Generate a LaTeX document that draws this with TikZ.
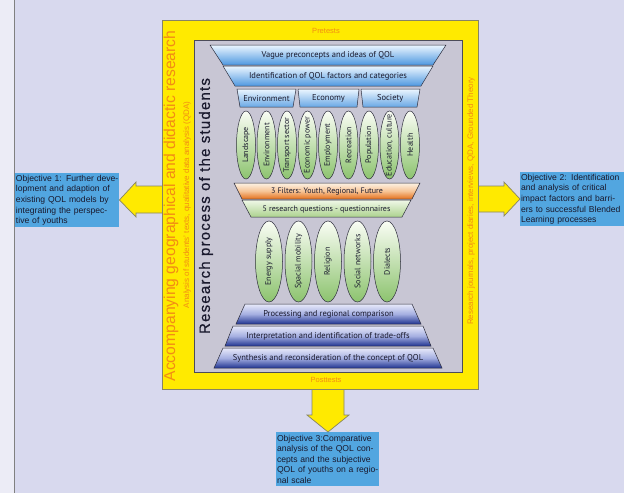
\documentclass[tikz,border=0pt]{standalone}
\usepackage{fontspec}
\setmainfont{Liberation Sans}
\newfontfamily\mfont{PT Sans}
\newfontfamily\rpfont[LetterSpace=8,FakeBold=0.6]{Liberation Sans}
\usetikzlibrary{shapes.geometric}
\definecolor{bglav}{RGB}{216,217,238}
\definecolor{bgleft}{RGB}{236,236,246}
\definecolor{ylw}{RGB}{255,234,0}
\definecolor{ylwedge}{RGB}{135,132,100}
\definecolor{grayin}{RGB}{200,198,212}
\definecolor{orng}{RGB}{242,140,20}
\definecolor{objblue}{RGB}{82,166,224}
\definecolor{edgec}{RGB}{45,45,60}
\definecolor{txtc}{RGB}{25,25,45}
\definecolor{bltop}{RGB}{236,246,255}
\definecolor{blbot}{RGB}{78,152,224}
\definecolor{grtop}{RGB}{250,253,245}
\definecolor{grbot}{RGB}{140,195,110}
\definecolor{ortop}{RGB}{253,242,228}
\definecolor{ormid}{RGB}{246,196,150}
\definecolor{orbot}{RGB}{228,112,28}
\definecolor{gttop}{RGB}{240,248,232}
\definecolor{gtbot}{RGB}{172,210,142}
\definecolor{dbtop}{RGB}{232,234,250}
\definecolor{dbmid}{RGB}{165,175,225}
\definecolor{dbbot}{RGB}{32,52,145}
\tikzset{
  blocka/.style={fill=ylw, draw=ylwedge, line width=0.7pt, line join=miter},
  objbox/.style={fill=objblue, text=txtc, anchor=north west, inner xsep=0.8pt, inner ysep=0pt,
    text width=102.4pt, minimum height=54pt, align=left, font=\fontsize{8.6}{10.6}\selectfont},
  orangetxt/.style={text=orng, inner sep=0pt},
  traptext/.style={text=txtc, inner sep=0pt, font=\mfont\fontsize{8.5}{10}\selectfont},
  trapbase/.style={draw=edgec, line width=0.5pt},
  bluetrap/.style={trapbase, top color=bltop, bottom color=blbot},
  smallbox/.style={trapbase, top color=bltop, bottom color=blbot!85},
  orangetrap/.style={trapbase, top color=ortop, bottom color=orbot, middle color=ormid},
  greentrap/.style={trapbase, top color=gttop, bottom color=gtbot},
  darktrap/.style={trapbase, top color=dbtop, bottom color=dbbot, middle color=dbmid},
  ovalsty/.style={ellipse, draw=edgec, line width=0.5pt, inner sep=0pt, top color=grtop, bottom color=grbot},
  ovaltext/.style={text=txtc, inner sep=0pt, rotate=90, font=\mfont\fontsize{8}{9}\selectfont}
}
\newcommand\trapz[9]{%
  \shade[#2] (#5,#3) -- (#6,#3) -- (#8,#4) -- (#7,#4) -- cycle;
  \node[traptext] (#1) at ({(#5+#6+#7+#8)/4},{(#3+#4)/2+0.5}) {#9};}
\newcommand\ovl[6]{%
  \node[ovalsty, minimum width=#4pt, minimum height=#5pt] (#1) at (#2,#3) {};
  \node[ovaltext] (#1t) at (#1) {#6};}
\begin{document}
\begin{tikzpicture}[x=1pt,y=-1pt]
\useasboundingbox (0,0) rectangle (624,493);
\fill[bglav] (0,0) rectangle (624,493);
\fill[bgleft] (0,0) rectangle (14,493);
\draw[gray, line width=0.6pt] (14,0) -- (14,493);

% objective boxes
\node[objbox] (obj1) at (15,173) {\mbox{Objective 1: Further deve-}\\\mbox{lopment and adaption of}\\\mbox{existing QOL models by}\\\mbox{integrating the perspec-}\\\mbox{tive of youths}};
\node[objbox] (obj2) at (520,172) {\mbox{Objective 2: Identification}\\\mbox{and analysis of critical}\\\mbox{impact factors and barri-}\\\mbox{ers to successful Blended}\\\mbox{Learning processes}};
\node[objbox, text width=101.4pt] (obj3) at (276,432) {\mbox{Objective 3:Comparative}\\\mbox{analysis of the QOL con-}\\\mbox{cepts and the subjective}\\\mbox{QOL of youths on a regio-}\\\mbox{nal scale}};

% block arrows
\filldraw[blocka] (163,186) -- (136,186) -- (136,182) -- (obj1.east |- 0,200) -- (136,217) -- (136,213) -- (163,213);
\filldraw[blocka] (477,186) -- (504,186) -- (504,182) -- (obj2.west |- 0,199) -- (504,216) -- (504,212) -- (477,212);
\filldraw[blocka] (312,388) -- (312,415) -- (307,415) -- (obj3.north -| 328,0) -- (349,415) -- (344,415) -- (344,388);

% frame
\node[draw=ylwedge, fill=ylw, line width=0.8pt, minimum width=316pt, minimum height=369pt, inner sep=0pt] (frame) at (320,204.5) {};
\node[draw=edgec!85, fill=grayin, line width=0.7pt, minimum width=268pt, minimum height=332pt, inner sep=0pt] (proc) at (328,206) {};

% frame texts
\node[orangetxt, font=\fontsize{7.5}{9}\selectfont] (pre) at (326,31) {Pretests};
\node[orangetxt, font=\fontsize{7.5}{9}\selectfont] (post) at (326,380) {Posttests};
\node[orangetxt, rotate=90, font=\fontsize{15.7}{17}\selectfont] (acc) at (171,206) {Accompanying geographical and didactic research};
\node[orangetxt, rotate=90, font=\fontsize{8}{9}\selectfont] (ana) at (187,205) {Analysis of students' texts, qualitative data analysis (QDA)};
\node[orangetxt, rotate=90, font=\fontsize{8}{9}\selectfont] (rj) at (471,201) {Research journals, project diaries, interviews, QDA, Grounded Theory};
\node[text=txtc, rotate=90, inner sep=0pt, font=\rpfont\fontsize{15}{17}\selectfont] (rp) at (206,206) {Research process of the students};

% upper funnel
\trapz{t1}{bluetrap}{45}{65}{210}{446}{223}{433}{Vague preconcepts and ideas of QOL}
\trapz{t2}{bluetrap}{66}{86}{223}{433}{235}{421}{Identification of QOL factors and categories}
\trapz{b1}{smallbox}{89}{107}{237}{296}{240}{293}{Environment}
\trapz{b2}{smallbox}{89}{107}{298}{359}{300}{357}{Economy}
\trapz{b3}{smallbox}{89}{107}{361}{420}{363}{417}{Society}

% upper ellipses
\ovl{e1}{246}{145}{19}{68}{Landscape}
\ovl{e2}{266.5}{145}{19}{68}{Environment}
\ovl{e3}{287}{145}{19}{68}{Transport sector}
\ovl{e4}{307.5}{145}{19}{68}{Economic power}
\ovl{e5}{328}{145}{19}{68}{Employment}
\ovl{e6}{348.5}{145}{19}{68}{Recreation}
\ovl{e7}{369}{145}{19}{68}{Population}
\ovl{e8}{389.5}{145}{19}{68}{Education, culture}
\ovl{e9}{410}{145}{19}{68}{Health}

% filters
\trapz{f1}{orangetrap}{183}{199}{234}{420}{242}{412}{\fontsize{8}{9}\selectfont 3 Filters: Youth, Regional, Future}
\trapz{f2}{greentrap}{200}{217}{242}{411}{251}{402}{\fontsize{8}{9}\selectfont 5 research questions - questionnaires}

% lower ellipses
\ovl{g1}{269}{261.5}{27}{81}{Energy supply}
\ovl{g2}{298.5}{261.5}{27}{81}{Spacial mobility}
\ovl{g3}{328}{261.5}{27}{81}{Religion}
\ovl{g4}{357.5}{261.5}{27}{81}{Social networks}
\ovl{g5}{387}{261.5}{27}{81}{Dialects}

% lower funnel
\trapz{d1}{darktrap}{304}{324}{245}{412}{236}{421}{Processing and regional comparison}
\trapz{d2}{darktrap}{326}{346}{233}{423}{225}{431}{Interpretation and identification of trade-offs}
\trapz{d3}{darktrap}{348}{368}{223}{433}{214}{442}{Synthesis and reconsideration of the concept of QOL}
\end{tikzpicture}
\end{document}
